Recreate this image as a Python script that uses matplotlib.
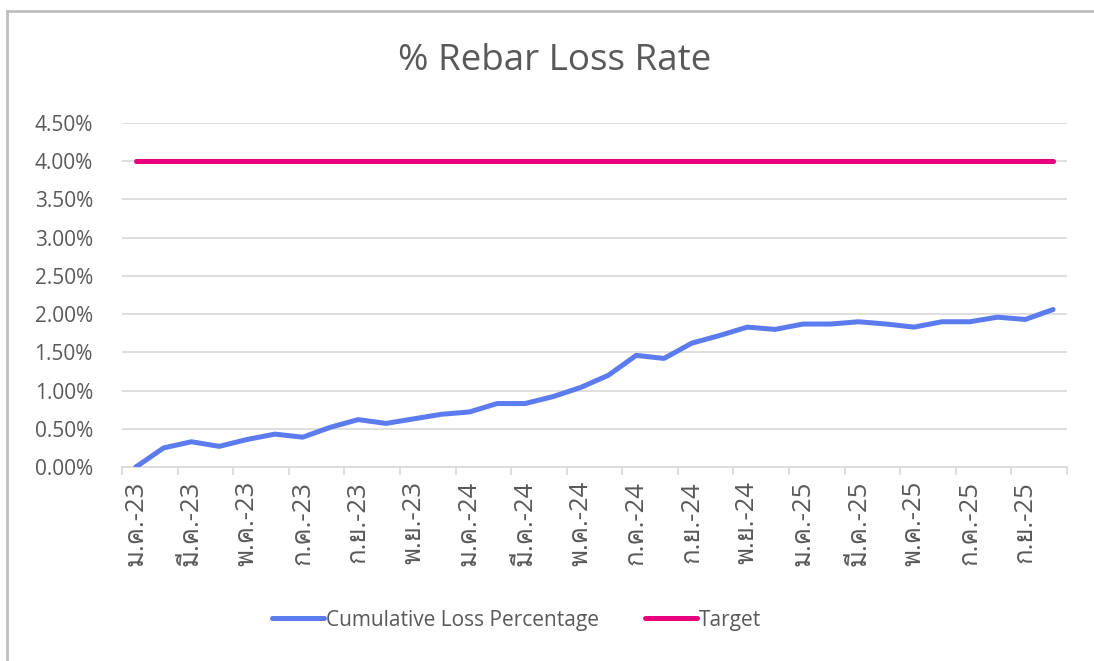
import matplotlib
matplotlib.use("Agg")
import matplotlib.pyplot as plt
from matplotlib import font_manager
from matplotlib.ft2font import FT2Font
from matplotlib.ticker import FixedLocator, FuncFormatter, NullFormatter
from matplotlib.lines import Line2D

# ---- data ----
month_labels = [
    "ม.ค.-23", "ก.พ.-23", "มี.ค.-23", "เม.ย.-23", "พ.ค.-23", "มิ.ย.-23",
    "ก.ค.-23", "ส.ค.-23", "ก.ย.-23", "ต.ค.-23", "พ.ย.-23", "ธ.ค.-23",
    "ม.ค.-24", "ก.พ.-24", "มี.ค.-24", "เม.ย.-24", "พ.ค.-24", "มิ.ย.-24",
    "ก.ค.-24", "ส.ค.-24", "ก.ย.-24", "ต.ค.-24", "พ.ย.-24", "ธ.ค.-24",
    "ม.ค.-25", "ก.พ.-25", "มี.ค.-25", "เม.ย.-25", "พ.ค.-25", "มิ.ย.-25",
    "ก.ค.-25", "ส.ค.-25", "ก.ย.-25", "ต.ค.-25",
]
cumulative_loss_pct = [
    0.00, 0.25, 0.33, 0.27, 0.36, 0.43, 0.39, 0.52, 0.62, 0.57,
    0.63, 0.69, 0.72, 0.83, 0.83, 0.92, 1.04, 1.20, 1.46, 1.42,
    1.62, 1.72, 1.83, 1.80, 1.87, 1.87, 1.90, 1.87, 1.83, 1.90,
    1.90, 1.96, 1.93, 2.06,
]
target_pct = [4.00] * len(month_labels)

# ---- fonts ----
def family_with_char(ch):
    code = ord(ch)
    for entry in font_manager.fontManager.ttflist:
        try:
            if code in FT2Font(entry.fname).get_charmap():
                return entry.name
        except Exception:
            continue
    return None

thai_family = family_with_char("ม")
latin_family = "Open Sans"
families = [latin_family] + ([thai_family] if thai_family else []) + ["DejaVu Sans"]
plt.rcParams["font.family"] = families

text_color = "#595959"
grid_color = "#D9D9D9"
blue = "#5B7BEF"
magenta = "#E6007E"

fig = plt.figure(figsize=(10.94, 6.61), dpi=100)
ax = fig.add_axes([0.1115, 0.2935, 0.8638, 0.5204])

x = list(range(len(month_labels)))
ax.plot(x, cumulative_loss_pct, color=blue, lw=3.6, solid_capstyle="round",
        solid_joinstyle="round", zorder=3)
ax.plot(x, target_pct, color=magenta, lw=3.6, solid_capstyle="round", zorder=3)

ax.set_xlim(-0.5, len(month_labels) - 0.5)
ax.set_ylim(0, 4.5)

# y axis
ax.set_yticks([i * 0.5 for i in range(10)])
ax.yaxis.set_major_formatter(FuncFormatter(lambda v, p: f"{v:.2f}%"))
ax.tick_params(axis="y", length=0, pad=21, labelsize=15, labelcolor=text_color)
ax.grid(axis="y", color=grid_color, lw=1.2, zorder=0)

# x axis: tick marks between every second month, labels on alternate months
ax.xaxis.set_major_locator(FixedLocator([i - 0.5 for i in range(0, len(month_labels) + 1, 2)]))
ax.xaxis.set_major_formatter(NullFormatter())
label_pos = list(range(0, len(month_labels), 2))
ax.xaxis.set_minor_locator(FixedLocator(label_pos))
ax.xaxis.set_minor_formatter(FuncFormatter(lambda v, p: month_labels[int(round(v))]))
ax.tick_params(axis="x", which="major", length=6, color=grid_color, width=1.2)
ax.tick_params(axis="x", which="minor", length=0, pad=10, labelsize=18.5,
               labelcolor=text_color, labelrotation=90)

for side in ("top", "right", "left"):
    ax.spines[side].set_visible(False)
ax.spines["bottom"].set_color(grid_color)
ax.spines["bottom"].set_linewidth(1.2)

fig.text(0.507, 0.908, "% Rebar Loss Rate", ha="center", va="center",
         fontsize=26.5, color=text_color)

handles = [
    Line2D([], [], color=blue, lw=3.6, solid_capstyle="round"),
    Line2D([], [], color=magenta, lw=3.6, solid_capstyle="round"),
]
fig.legend(handles, ["Cumulative Loss Percentage", "Target"], loc="center",
           bbox_to_anchor=(0.472, 0.062), ncol=2, frameon=False, fontsize=15,
           labelcolor=text_color, handlelength=2.5, handletextpad=0.1,
           columnspacing=2.2)

# chart frame (top and left edges)
fig.add_artist(Line2D([0.0064, 1.0], [0.983, 0.983], color="#BFBFBF", lw=2,
                      transform=fig.transFigure))
fig.add_artist(Line2D([0.0064, 0.0064], [0.0, 0.983], color="#BFBFBF", lw=2,
                      transform=fig.transFigure))

fig.savefig("out.png", dpi=100)
